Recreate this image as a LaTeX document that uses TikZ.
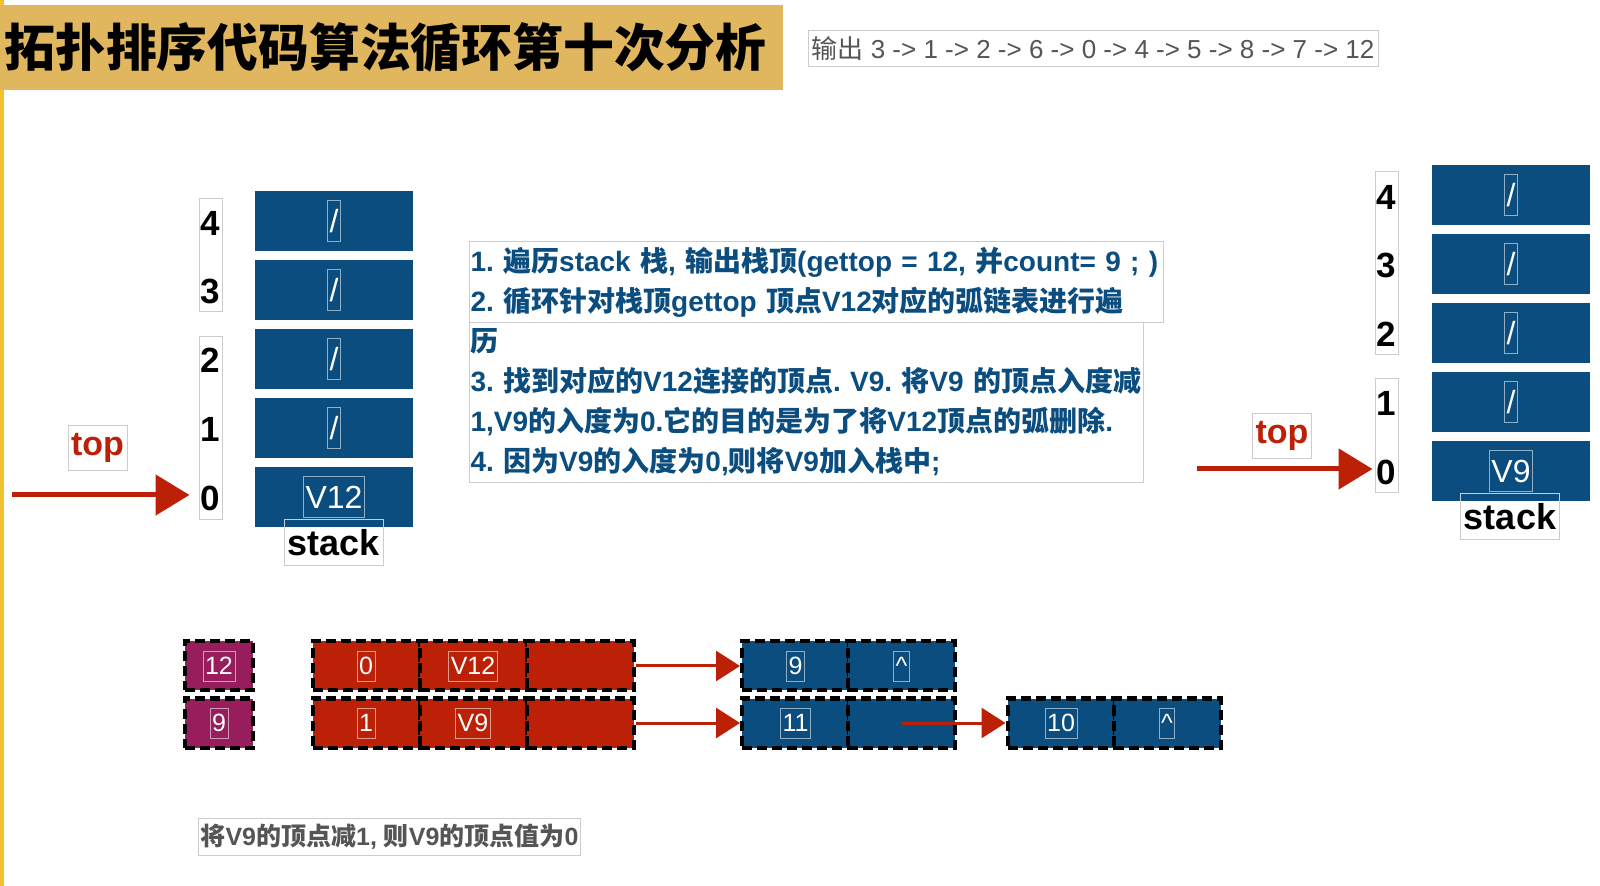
\documentclass[tikz,border=0pt]{standalone}
\usepackage{fontspec}
\setmainfont{Liberation Sans}
\newfontfamily\cjk{Noto Sans CJK SC}
\newcommand\asc[1]{{\rmfamily #1}}
\newcommand\ascb[1]{{\rmfamily\bfseries #1}}
\usetikzlibrary{arrows.meta}
\definecolor{gold}{HTML}{F2C12E}
\definecolor{titlebg}{HTML}{E0B65F}
\definecolor{navy}{HTML}{0B4D7E}
\definecolor{brick}{HTML}{BC2108}
\definecolor{plum}{HTML}{981D5C}
\definecolor{inkgray}{HTML}{555555}
\definecolor{rule}{HTML}{CCCCCC}

\begin{document}
\begin{tikzpicture}[x=0.5pt,y=-0.5pt,
    cell/.style={fill=navy,minimum width=79pt,minimum height=30pt,inner sep=0pt},
    inbox/.style={draw=white,draw opacity=0.55,line width=0.4pt,text=white,inner sep=1pt},
    celltxt/.style={inbox,minimum height=20.5pt,font=\fontsize{16}{16}\selectfont},
    idx/.style={font=\bfseries\fontsize{17.5}{17.5}\selectfont},
    idxbox/.style={draw=rule,line width=0.5pt,minimum width=11.5pt,inner sep=0pt},
    tag/.style={draw=rule,line width=0.5pt,inner sep=1pt},
    toptag/.style={tag,text=brick,font=\bfseries\fontsize{17}{17}\selectfont,minimum width=29.5pt,minimum height=22.5pt},
    stacktag/.style={tag,font=\bfseries\fontsize{18}{18}\selectfont,minimum width=49.5pt,minimum height=23pt},
    steps/.style={tag,anchor=north west,inner xsep=0.5pt,align=left,text=navy,font=\frenchspacing\cjk\bfseries\fontsize{14}{20}\selectfont},
    toparr/.style={draw=brick,line width=2.5pt,-{Triangle[length=17pt,width=20pt]}},
    listarr/.style={draw=brick,line width=1.5pt,-{Triangle[length=12pt,width=15pt]}},
    lcell/.style={draw=black,line width=2pt,dash pattern=on 5pt off 2.5pt,minimum width=53.5pt,minimum height=24.5pt,inner sep=0pt},
    ltxt/.style={inbox,minimum height=15pt,font=\fontsize{12.5}{12.5}\selectfont}
  ]
  \useasboundingbox (0,0) rectangle (1600,886);
  \fill[white] (0,0) rectangle (1600,886);
  \fill[gold] (0,0) rectangle (4,886);

  % title and output line
  \node[anchor=north west,fill=titlebg,text width=387.5pt,inner xsep=2pt,inner ysep=0pt,minimum height=42.5pt,align=left,font=\cjk\bfseries\fontsize{25.4}{25.4}\selectfont] (title) at (0,5) {拓扑排序代码算法循环第十次分析};
  \node[tag,text=inkgray,font=\cjk\fontsize{13}{13}\selectfont,minimum width=285pt,minimum height=18pt] (outline) at (1093,49) {输出\asc{ 3 -> 1 -> 2 -> 6 -> 0 -> 4 -> 5 -> 8 -> 7 -> 12}};

  % left stack
  \foreach \i in {0,...,4}
    \node[cell] (lc\i) at (334,{497-69*\i}) {};
  \foreach \i in {1,...,4}
    \node[celltxt] (lv\i) at (lc\i) {/};
  \node[celltxt] (lv0) at (lc0) {V12};
  \node[idxbox,minimum height=56.5pt] (lga) at (210.5,255.5) {};
  \node[idxbox,minimum height=91.5pt] (lgb) at (210.5,428.5) {};
  \foreach \i in {0,...,4}
    \node[idx] (li\i) at (210,{498-68.75*\i}) {\i};
  \node[stacktag] (lstack) at (333.5,543) {stack};
  \node[toptag] (ltop) at (97.5,448) {top};
  \coordinate (ltail) at (12,495);
  \draw[toparr,shorten >=4.5pt] (ltail) -- (ltail -| lgb.west);

  % steps
  \node[steps,text width=346pt,minimum height=40.5pt] (step12) at (469,241) {\ascb{1. }遍历\ascb{stack }栈\ascb{, }输出栈顶\ascb{(gettop = 12, }并\ascb{count= 9 ; )}\\\ascb{2. }循环针对栈顶\ascb{gettop }顶点\ascb{V12}对应的弧链表进行遍};
  \node[steps,text width=336pt,minimum height=80pt] (step34) at (469,322) {历\\\ascb{3. }找到对应的\ascb{V12}连接的顶点\ascb{. V9. }将\ascb{V9 }的顶点入度减\\\ascb{1,V9}的入度为\ascb{0.}它的目的是为了将\ascb{V12}顶点的弧删除\ascb{.}\\\ascb{4. }因为\ascb{V9}的入度为\ascb{0,}则将\ascb{V9}加入栈中\ascb{;}};

  % right stack
  \foreach \i in {0,...,4}
    \node[cell] (rc\i) at (1511,{471-69*\i}) {};
  \foreach \i in {1,...,4}
    \node[celltxt] (rv\i) at (rc\i) {/};
  \node[celltxt] (rv0) at (rc0) {V9};
  \node[idxbox,minimum height=91.5pt] (rga) at (1386.5,263.5) {};
  \node[idxbox,minimum height=57pt] (rgb) at (1386.5,436) {};
  \foreach \i in {0,...,4}
    \node[idx] (ri\i) at (1386,{472-68.75*\i}) {\i};
  \node[stacktag] (rstack) at (1510,517) {stack};
  \node[toptag] (rtop) at (1282,436) {top};
  \coordinate (rtail) at (1197,469);
  \draw[toparr,shorten >=1pt] (rtail) -- (rtail -| rgb.west);

  % adjacency list
  \node[lcell,fill=plum,minimum width=34pt] (h12) at (219,666) {};
  \node[ltxt] (h12t) at (h12) {12};
  \node[lcell,fill=plum,minimum width=34pt] (h9) at (219,723) {};
  \node[ltxt] (h9t) at (h9) {9};

  \node[lcell,fill=brick] (aa) at (366,666) {};
  \node[lcell,fill=brick] (ab) at (473,666) {};
  \node[lcell,fill=brick] (ac) at (580.5,666) {};
  \node[ltxt] (aat) at (aa) {0};
  \node[ltxt] (abt) at (ab) {V12};
  \node[lcell,fill=brick] (ba) at (366,723) {};
  \node[lcell,fill=brick] (bb) at (473,723) {};
  \node[lcell,fill=brick] (bc) at (580.5,723) {};
  \node[ltxt] (bat) at (ba) {1};
  \node[ltxt] (bbt) at (bb) {V9};

  \node[lcell,fill=navy] (ea) at (795.5,666) {};
  \node[lcell,fill=navy] (eb) at (901.5,666) {};
  \node[ltxt] (eat) at (ea) {9};
  \node[ltxt] (ebt) at (eb) {\textasciicircum};
  \node[lcell,fill=navy] (fa) at (795.5,723) {};
  \node[lcell,fill=navy] (fb) at (901.5,723) {};
  \node[ltxt] (fat) at (fa) {11};
  \node[lcell,fill=navy] (ga) at (1061,723) {};
  \node[lcell,fill=navy] (gb) at (1167,723) {};
  \node[ltxt] (gat) at (ga) {10};
  \node[ltxt] (gbt) at (gb) {\textasciicircum};

  \draw[listarr] (ac.east) -- (ea.west);
  \draw[listarr] (bc.east) -- (fa.west);
  \draw[listarr] (fb.center) -- (ga.west);

  \node[tag,text=inkgray,font=\frenchspacing\cjk\bfseries\fontsize{12.5}{12.5}\selectfont,minimum width=190.5pt,minimum height=18.5pt] (note) at (389.5,836.5) {将\ascb{V9}的顶点减\ascb{1, }则\ascb{V9}的顶点值为\ascb{0}};
\end{tikzpicture}
\end{document}
